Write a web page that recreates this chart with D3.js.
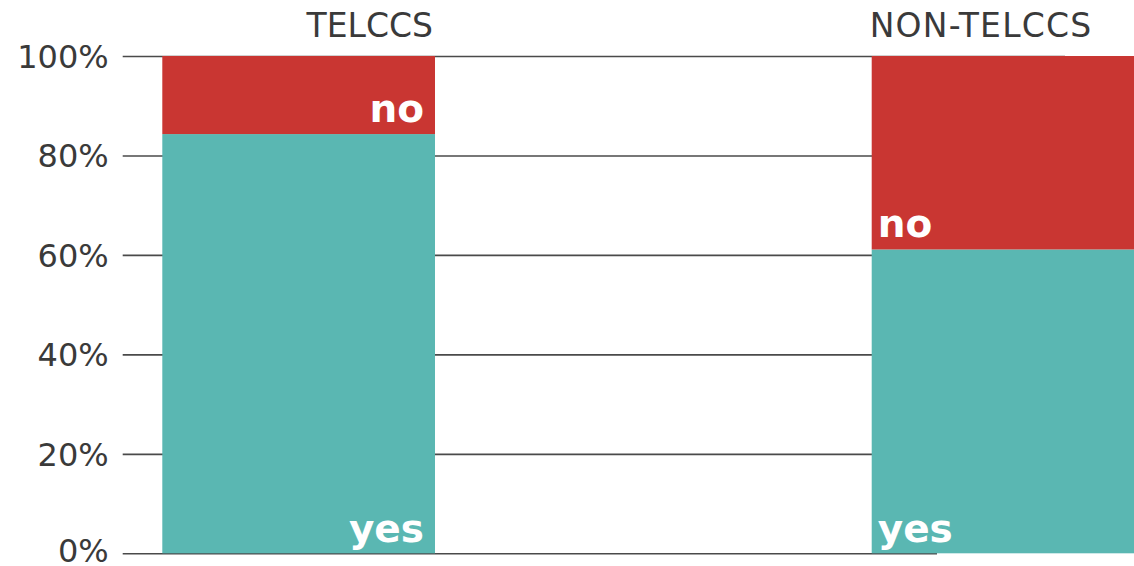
<!DOCTYPE html>
<html>
<head>
<meta charset="utf-8">
<script src="https://cdn.jsdelivr.net/npm/d3@7/dist/d3.min.js"></script>
<style>
  html, body { margin: 0; padding: 0; background: #ffffff; overflow: hidden; }
  svg { display: block; }
</style>
</head>
<body>
<svg id="chart" width="1134" height="566"></svg>
<script>
// ---- data ----
const categories = ["TELCCS", "NON-TELCCS"];
const yesValues = [84.3, 61.1];
const noValues = [15.7, 38.9];
const seriesNames = ["yes", "no"];
const tickValues = [0, 20, 40, 60, 80, 100];
const tickLabels = ["0%", "20%", "40%", "60%", "80%", "100%"];

// ---- layout ----
const W = 1134, H = 566;
const gridX0 = 122.7, gridX1 = 1065, baseX1 = 937;
const colors = { yes: "#5ab7b2", no: "#c93632" };
const font = "'DejaVu Sans', 'Noto Sans', sans-serif";

const svg = d3.select("#chart");

const y = d3.scaleLinear().domain([0, 100]).range([553.3, 56]);
const x = d3.scaleBand().domain(categories)
  .range([162.3, 1144.4]).paddingInner(0.6156).paddingOuter(0);

// gridlines + tick labels via axis
const axis = d3.axisLeft(y)
  .tickValues(tickValues)
  .tickFormat((d, i) => tickLabels[i])
  .tickSize(-(gridX1 - gridX0))
  .tickPadding(14);

const gAxis = svg.append("g")
  .attr("transform", `translate(${gridX0},0)`)
  .call(axis);
gAxis.select(".domain").remove();
gAxis.selectAll(".tick line")
  .attr("stroke", "#4a4a4a")
  .attr("stroke-width", 1.6)
  .attr("x2", d => d === 0 ? (baseX1 - gridX0) : (gridX1 - gridX0));
gAxis.selectAll(".tick text")
  .attr("font-family", font)
  .attr("font-size", 32)
  .attr("fill", "#3a3a3a")
  .attr("dy", d => d === 0 ? "0.27em" : "0.35em");

// stacked data
const stackData = categories.map((c, i) => ({ cat: c, yes: yesValues[i], no: noValues[i] }));
const stack = d3.stack().keys(seriesNames)(stackData);

const gBars = svg.append("g");
stack.forEach(layer => {
  gBars.selectAll(null)
    .data(layer)
    .enter()
    .append("rect")
    .attr("x", d => x(d.data.cat))
    .attr("width", x.bandwidth())
    .attr("y", d => y(d[1]))
    .attr("height", d => y(d[0]) - y(d[1]))
    .attr("fill", colors[layer.key]);
});

// in-bar labels
const labelStyle = sel => sel
  .attr("font-family", font)
  .attr("font-weight", "bold")
  .attr("font-size", 39)
  .attr("fill", "#ffffff");

categories.forEach((c, i) => {
  const left = i === 1;
  const xPos = left ? x(c) + 6 : x(c) + x.bandwidth() - 11;
  const anchor = left ? "start" : "end";
  svg.append("text")
    .call(labelStyle)
    .attr("x", xPos)
    .attr("y", y(yesValues[i]) - 12)
    .attr("text-anchor", anchor)
    .text("no");
  svg.append("text")
    .call(labelStyle)
    .attr("x", xPos)
    .attr("y", y(0) - 11)
    .attr("text-anchor", anchor)
    .text("yes");
});

// category titles
categories.forEach((c, i) => {
  const left = i === 1;
  svg.append("text")
    .attr("font-family", font)
    .attr("font-size", 33)
    .attr("fill", "#3a3a3a")
    .attr("letter-spacing", left ? 1.2 : 0)
    .attr("x", left ? x(c) - 2 : x(c) + x.bandwidth() - 2)
    .attr("y", 37)
    .attr("text-anchor", left ? "start" : "end")
    .text(c);
});
</script>
</body>
</html>
